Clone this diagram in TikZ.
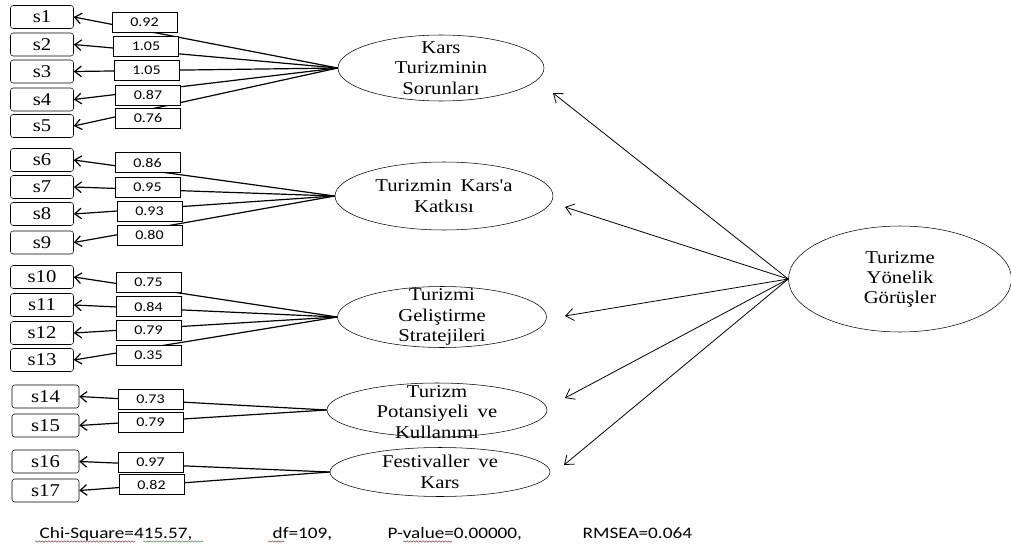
\documentclass[tikz,border=0pt]{standalone}
\usepackage{fontspec}
\setmainfont{Liberation Serif}[FakeStretch=1.15,Ligatures=TeXOff]
\newfontfamily\calibri{Carlito}[FakeStretch=1.2]
\usetikzlibrary{arrows.meta,shapes.geometric,decorations.pathmorphing}
\definecolor{SpellRed}{RGB}{220,40,40}
\definecolor{GrammarGreen}{RGB}{60,160,60}
\tikzset{
  obs/.style={draw,rounded corners=2pt,minimum width=47.25pt,minimum height=17.25pt,inner sep=0pt,font=\fontsize{13.5}{15}\selectfont},
  coef/.style={draw,fill=white,minimum width=48.75pt,minimum height=15pt,inner sep=0pt,font=\calibri\fontsize{10}{11}\selectfont},
  lat/.style={ellipse,draw,inner sep=0pt},
  lattext/.style={align=center,font=\fontsize{13.5}{15.5}\selectfont},
  load/.style={line width=0.9pt,-{Straight Barb[length=5pt,width=8pt]}},
  struct/.style={line width=0.6pt,-{Straight Barb[length=6pt,width=9pt]}},
  fit/.style={anchor=base west,font=\calibri\fontsize{12}{14}\selectfont},
  squiggle/.style={line width=0.4pt,decorate,decoration={snake,amplitude=0.5pt,segment length=2.4pt}}
}
\begin{document}
\begin{tikzpicture}[x=0.75pt,y=-0.75pt]
\useasboundingbox (0,0) rectangle (1011,546);
% observed items
\node[obs] (s1) at (42,17){s1};
\node[obs] (s2) at (42,44.5){s2};
\node[obs] (s3) at (42,71.5){s3};
\node[obs] (s4) at (42,99.5){s4};
\node[obs] (s5) at (42,126){s5};
\node[obs] (s6) at (42,160){s6};
\node[obs] (s7) at (42,187){s7};
\node[obs] (s8) at (42,214){s8};
\node[obs] (s9) at (42,242.5){s9};
\node[obs] (s10) at (42,277){s10};
\node[obs] (s11) at (42,305){s11};
\node[obs] (s12) at (42,333){s12};
\node[obs] (s13) at (42,360){s13};
\node[obs,minimum width=50.25pt] (s14) at (45.5,396.5){s14};
\node[obs,minimum width=50.25pt] (s15) at (45.5,425.5){s15};
\node[obs,minimum width=50.25pt] (s16) at (45.5,461.5){s16};
\node[obs,minimum width=50.25pt] (s17) at (45.5,490.5){s17};
% factors
\node[lat,minimum width=154.5pt,minimum height=49.5pt,label={[lattext]center:Kars\\Turizminin\\Sorunları}] (sor) at (441,68){};
\node[lat,minimum width=163.5pt,minimum height=51pt,label={[lattext]center:Turizmin\enspace Kars'a\\Katkısı}] (kat) at (444,196){};
\node[lat,minimum width=156.75pt,minimum height=45.75pt,label={[lattext]center:Turizmi\\Geliştirme\\Stratejileri}] (str) at (442,317){};
\node[lat,minimum width=165pt,minimum height=40.5pt,label={[lattext,yshift=-1.5pt]center:Turizm\\Potansiyeli\enspace ve\\Kullanımı}] (pot) at (437,410){};
\node[lat,minimum width=165pt,minimum height=36.75pt,label={[lattext]center:Festivaller\enspace ve\\Kars}] (fes) at (440,472){};
\node[lat,minimum width=167.25pt,minimum height=79.5pt,label={[lattext,font=\fontsize{13.5}{15}\selectfont]center:Turizme\\Yönelik\\Görüşler}] (gor) at (900,279){};
% loadings
\draw[load] (sor.west) -- (s1.east);\draw[load] (sor.west) -- (s2.east);
\draw[load] (sor.west) -- (s3.east);\draw[load] (sor.west) -- (s4.east);
\draw[load] (sor.west) -- (s5.east);
\draw[load] (kat.west) -- (s6.east);\draw[load] (kat.west) -- (s7.east);
\draw[load] (kat.west) -- (s8.east);\draw[load] (kat.west) -- (s9.east);
\draw[load] (str.west) -- (s10.east);\draw[load] (str.west) -- (s11.east);
\draw[load] (str.west) -- (s12.east);\draw[load] (str.west) -- (s13.east);
\draw[load] (pot.west) -- (s14.east);\draw[load] (pot.west) -- (s15.east);
\draw[load] (fes.west) -- (s16.east);\draw[load] (fes.west) -- (s17.east);
\node[coef] (c1) at (144.5,22){0.92};
\node[coef] (c2) at (146,46){1.05};
\node[coef] (c3) at (146.5,70.5){1.05};
\node[coef] (c4) at (148,95){0.87};
\node[coef] (c5) at (148,118.5){0.76};
\node[coef] (c6) at (147.5,162.5){0.86};
\node[coef] (c7) at (147.5,187){0.95};
\node[coef] (c8) at (149.5,211){0.93};
\node[coef] (c9) at (149.5,235){0.80};
\node[coef] (c10) at (148.5,282.5){0.75};
\node[coef] (c11) at (148.5,306.5){0.84};
\node[coef] (c12) at (148.5,330.5){0.79};
\node[coef] (c13) at (148.5,355){0.35};
\node[coef] (c14) at (150.5,399){0.73};
\node[coef] (c15) at (150.5,422){0.79};
\node[coef] (c16) at (150.5,462){0.97};
\node[coef] (c17) at (151.5,484.5){0.82};
% second order
\coordinate (t1) at (553,93);
\coordinate (t2) at (565,207);
\coordinate (t3) at (565,316);
\coordinate (t4) at (565,398);
\coordinate (t5) at (564,465);
\draw[struct] (gor.west) -- (t1);\draw[struct] (gor.west) -- (t2);
\draw[struct] (gor.west) -- (t3);\draw[struct] (gor.west) -- (t4);
\draw[struct] (gor.west) -- (t5);
% fit indices
\node[fit] (chi) at (35,538){Chi-Square=415.57,};
\node[fit] (df) at (268,538){df=109,};
\node[fit] (pval) at (383,538){P-value=0.00000,};
\node[fit] (rmsea) at (578,538){RMSEA=0.064};
\draw[squiggle,SpellRed] (35,541.5) -- (135,541.5);
\draw[squiggle,GrammarGreen] (143,541.5) -- (203,541.5);
\draw[squiggle,SpellRed] (268,541.5) -- (284,541.5);
\draw[squiggle,SpellRed] (403,541.5) -- (452,541.5);
\end{tikzpicture}
\end{document}
